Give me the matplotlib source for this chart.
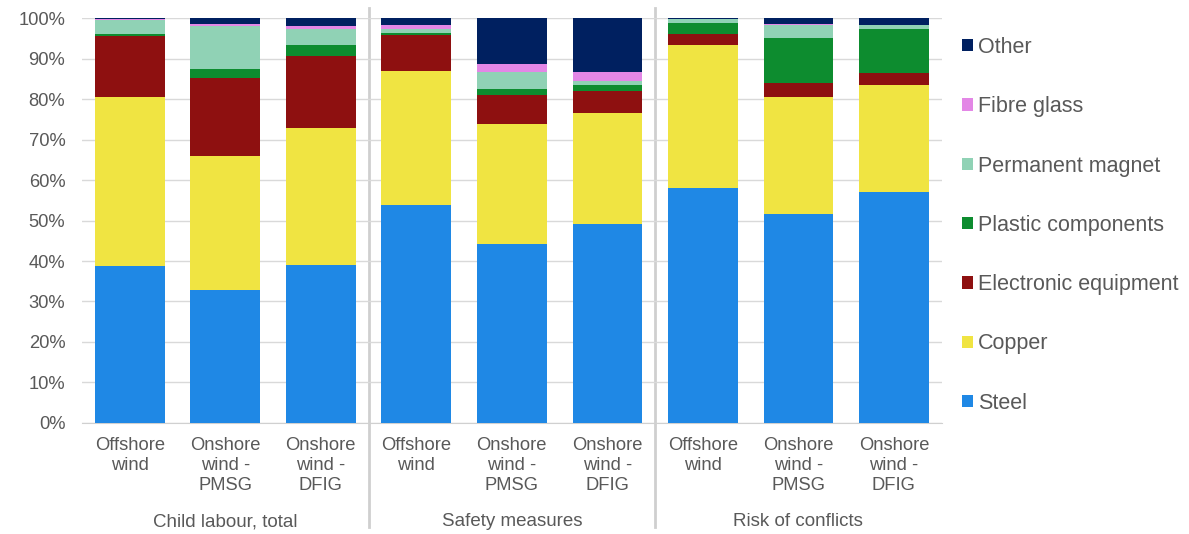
import matplotlib
matplotlib.use('Agg')
import matplotlib.pyplot as plt
import matplotlib.transforms as mtransforms
import numpy as np

plt.rcParams['font.family'] = ['Liberation Sans', 'DejaVu Sans']

groups = ['Child labour, total', 'Safety measures', 'Risk of conflicts']
technologies = ['Offshore\nwind', 'Onshore\nwind -\nPMSG', 'Onshore\nwind -\nDFIG']

materials = ['Steel', 'Copper', 'Electronic equipment', 'Plastic components',
             'Permanent magnet', 'Fibre glass', 'Other']
colors = ['#1F88E5', '#F0E442', '#8E1010', '#0D8C2F', '#90D2B5', '#E387E6', '#002060']

# shares in %, one entry per bar (3 technologies x 3 indicators)
steel = [38.8, 32.8, 39.0, 53.8, 44.2, 49.1, 58.0, 51.6, 57.0]
copper = [41.7, 33.1, 33.8, 33.2, 29.6, 27.4, 35.4, 28.9, 26.4]
electronic = [15.1, 19.3, 17.9, 8.8, 7.2, 5.5, 2.6, 3.5, 3.0]
plastic = [0.6, 2.2, 2.7, 0.6, 1.4, 1.5, 2.9, 11.1, 11.0]
magnet = [3.4, 10.7, 4.0, 0.9, 4.2, 1.0, 0.8, 3.3, 1.0]
fibre = [0.3, 0.5, 0.6, 0.9, 2.0, 2.2, 0.05, 0.1, 0.0]
other = [0.1, 1.4, 2.0, 1.8, 11.4, 13.3, 0.25, 1.5, 1.6]

series = [steel, copper, electronic, plastic, magnet, fibre, other]

fig = plt.figure(figsize=(11.89, 5.34), dpi=100)
ax = fig.add_axes([0.069, 0.208, 0.723, 0.758])

x = np.arange(len(steel))
bottom = np.zeros(len(steel))
bars = []
for name, vals, c in zip(materials, series, colors):
    b = ax.bar(x, vals, bottom=bottom, width=0.73, color=c, label=name, zorder=3)
    bars.append(b)
    bottom += np.array(vals)

ax.set_xlim(-0.5, len(steel) - 0.5)
ax.set_ylim(0, 100)
ax.set_yticks(np.arange(0, 101, 10))
ax.set_yticklabels([f'{v}%' for v in range(0, 101, 10)])
ax.grid(axis='y', color='#d9d9d9', linewidth=1, zorder=0)
for s in ['top', 'right', 'left']:
    ax.spines[s].set_visible(False)
ax.spines['bottom'].set_color('#d0d0d0')
ax.tick_params(axis='both', length=0, labelsize=13.2, colors='#595959')
ax.tick_params(axis='y', pad=12)
ax.tick_params(axis='x', pad=10)
ax.set_xticks(x)
ax.set_xticklabels(technologies * len(groups), linespacing=1.25)

# separators between indicator groups and group labels
trans = mtransforms.blended_transform_factory(ax.transData, ax.transAxes)
for sep in [2.5, 5.5]:
    ax.plot([sep, sep], [-0.257, 1.025], transform=trans, color='#cfcfcf',
            linewidth=2, clip_on=False, zorder=1)
for i, g in enumerate(groups):
    ax.text(3 * i + 1, -0.244, g, transform=trans, ha='center', va='center',
            fontsize=13.5, color='#595959')

handles = bars[::-1]
fig.legend(handles, materials[::-1], loc='center left', bbox_to_anchor=(0.809, 0.578),
           frameon=False, fontsize=15.5, handlelength=0.5, handleheight=0.5,
           labelspacing=1.78, handletextpad=0.25, borderpad=0, borderaxespad=0,
           labelcolor='#595959')

fig.savefig('out.png', dpi=100)
